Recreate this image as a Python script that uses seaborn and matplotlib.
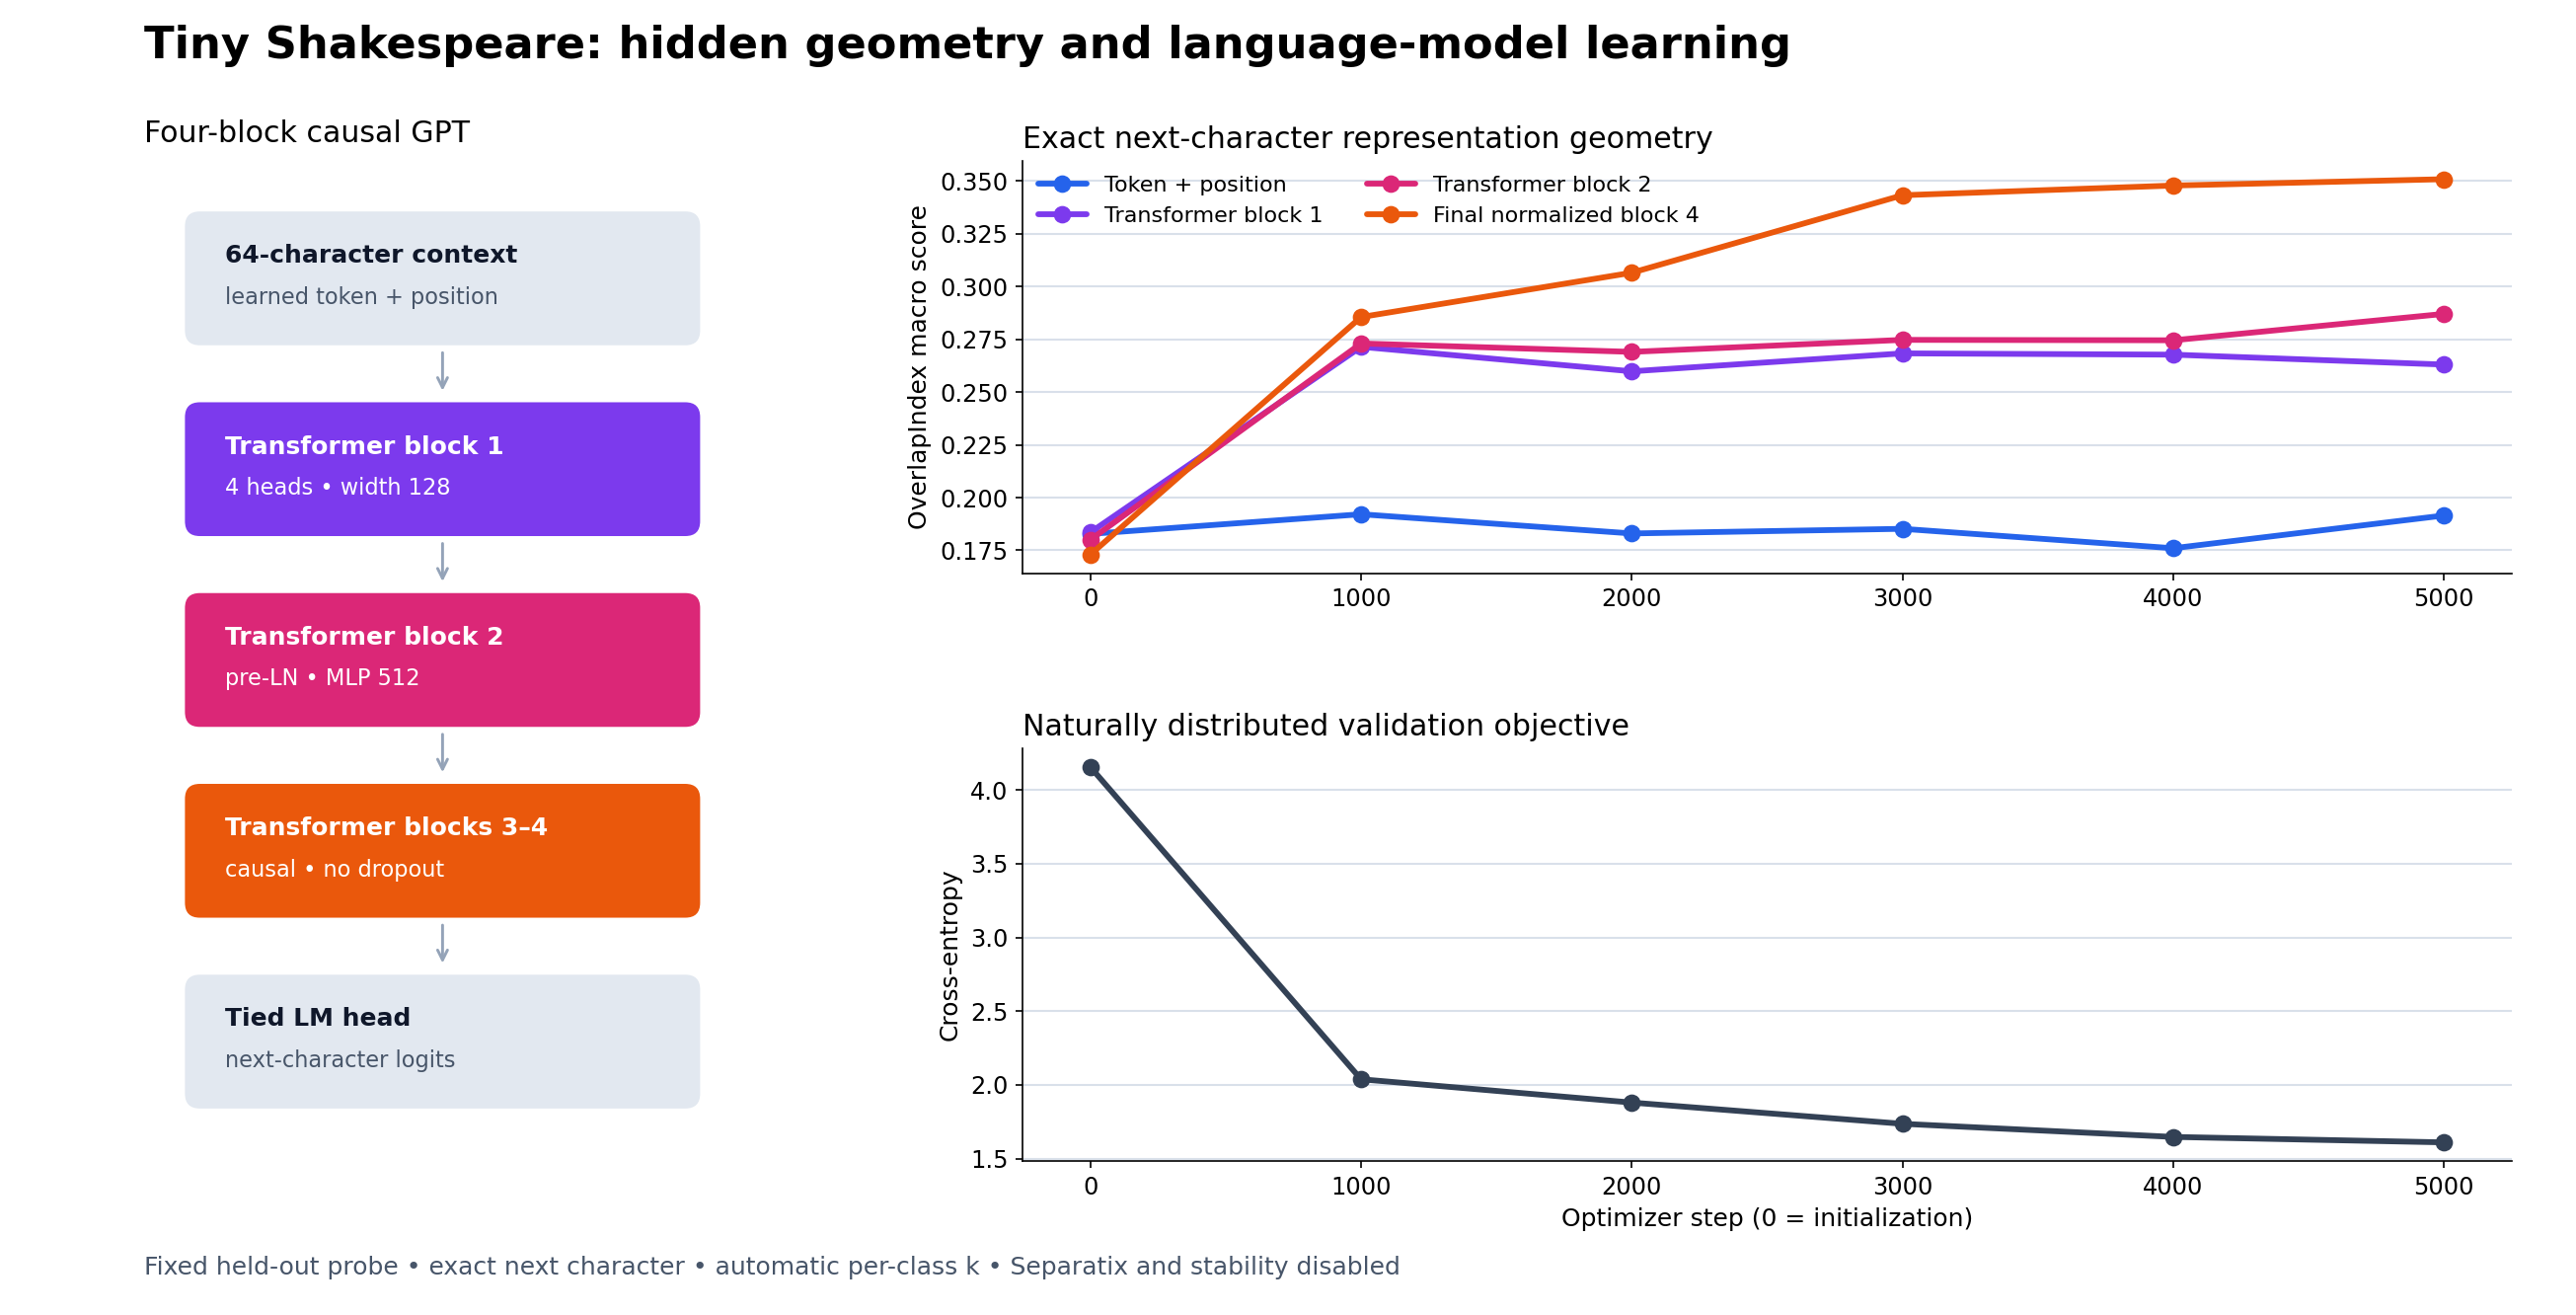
import numpy as np
import pandas as pd
import matplotlib
matplotlib.use("Agg")
import matplotlib.pyplot as plt
import seaborn as sns
from matplotlib.patches import FancyBboxPatch

# ── data ────────────────────────────────────────────────────────────────────
steps = [0, 1000, 2000, 3000, 4000, 5000]
token_pos = [0.1828, 0.1921, 0.1830, 0.1852, 0.1760, 0.1915]
block1 = [0.1835, 0.2714, 0.2598, 0.2683, 0.2677, 0.2630]
block2 = [0.1800, 0.2730, 0.2690, 0.2747, 0.2745, 0.2870]
final_block4 = [0.1730, 0.2855, 0.3065, 0.3432, 0.3478, 0.3508]
cross_entropy = [4.156, 2.038, 1.880, 1.736, 1.647, 1.610]

series_names = ["Token + position", "Transformer block 1",
                "Transformer block 2", "Final normalized block 4"]
series_colors = ["#2563eb", "#7c3aed", "#db2777", "#ea580c"]

box_titles = ["64-character context", "Transformer block 1",
              "Transformer block 2", "Transformer blocks 3–4", "Tied LM head"]
box_subs = ["learned token + position", "4 heads • width 128",
            "pre-LN • MLP 512", "causal • no dropout", "next-character logits"]
box_fill = ["#e2e8f0", "#7c3aed", "#db2777", "#ea580c", "#e2e8f0"]
box_title_col = ["#0f172a", "white", "white", "white", "#0f172a"]
box_sub_col = ["#475569", "white", "white", "white", "#475569"]

df = pd.DataFrame({
    "step": steps * 4,
    "score": token_pos + block1 + block2 + final_block4,
    "layer": np.repeat(series_names, len(steps)),
})
df_loss = pd.DataFrame({"step": steps, "loss": cross_entropy})

sns.set_style("ticks")
plt.rcParams["font.family"] = ["DejaVu Sans"]
plt.rcParams.update({"text.color": "black", "axes.labelcolor": "black",
                     "xtick.color": "black", "ytick.color": "black",
                     "axes.edgecolor": "black"})

fig = plt.figure(figsize=(17.4, 8.88), dpi=150)

# ── architecture diagram (coordinates in a 1560x796 canvas) ─────────────────
ax_d = fig.add_axes([0, 0, 1, 1], zorder=0)
ax_d.set_xlim(0, 1560)
ax_d.set_ylim(796, 0)
ax_d.axis("off")
bx, bw, bh, step_y = 112, 312, 81, 115.5
for i in range(len(box_titles)):
    top = 128 + i * step_y
    ax_d.add_patch(FancyBboxPatch((bx, top), bw, bh,
                                  boxstyle="round,pad=0,rounding_size=9",
                                  fc=box_fill[i], ec="none"))
    ax_d.text(bx + 24, top + 27, box_titles[i], fontsize=12, fontweight="bold",
              color=box_title_col[i], va="center", ha="left")
    ax_d.text(bx + 24, top + 52, box_subs[i], fontsize=10.8,
              color=box_sub_col[i], va="center", ha="left")
    if i < len(box_titles) - 1:
        ax_d.annotate("", xy=(bx + bw / 2, top + bh + 30), xytext=(bx + bw / 2, top + bh + 2),
                      arrowprops=dict(arrowstyle="->", color="#94a3b8", lw=1.4,
                                      mutation_scale=12))

fig.text(0.0558, 0.965, "Tiny Shakespeare: hidden geometry and language-model learning",
         fontsize=21.5, fontweight="bold", va="center", ha="left")
fig.text(0.0558, 0.898, "Four-block causal GPT", fontsize=14.4, va="center", ha="left")
fig.text(0.0558, 0.036,
         "Fixed held-out probe • exact next character • automatic per-class k • "
         "Separatix and stability disabled",
         fontsize=12, color="#475569", va="center", ha="left")

# ── representation geometry ─────────────────────────────────────────────────
ax1 = fig.add_axes([0.397, 0.564, 0.578, 0.314], zorder=1)
sns.lineplot(data=df, x="step", y="score", hue="layer", hue_order=series_names,
             palette=series_colors, marker="o", markersize=8.5, markeredgewidth=0,
             linewidth=2.8, ax=ax1)
ax1.set_title("Exact next-character representation geometry", loc="left", fontsize=14.4, pad=6)
ax1.set_xlabel("")
ax1.set_ylabel("OverlapIndex macro score", fontsize=12)
ax1.set_xticks(steps)
ax1.set_yticks(np.arange(0.175, 0.351, 0.025))
ax1.yaxis.set_major_formatter(matplotlib.ticker.FormatStrFormatter("%.3f"))
ax1.tick_params(labelsize=11.5)
ax1.grid(axis="y", color="#d9e0ea", linewidth=1)
ax1.set_axisbelow(True)
sns.move_legend(ax1, "upper left", ncol=2, frameon=False, title=None,
                fontsize=10.7, columnspacing=2.0, borderaxespad=0.3,
                handlelength=2.2, labelspacing=0.5)
sns.despine(ax=ax1)

# ── validation loss ─────────────────────────────────────────────────────────
ax2 = fig.add_axes([0.397, 0.117, 0.578, 0.314], zorder=1)
sns.lineplot(data=df_loss, x="step", y="loss", color="#334155", marker="o",
             markersize=8.5, markeredgewidth=0, linewidth=2.8, ax=ax2)
ax2.set_title("Naturally distributed validation objective", loc="left", fontsize=14.4, pad=6)
ax2.set_xlabel("Optimizer step (0 = initialization)", fontsize=12)
ax2.set_ylabel("Cross-entropy", fontsize=12)
ax2.set_xticks(steps)
ax2.set_yticks([1.5, 2.0, 2.5, 3.0, 3.5, 4.0])
ax2.tick_params(labelsize=11.5)
ax2.grid(axis="y", color="#d9e0ea", linewidth=1)
ax2.set_axisbelow(True)
sns.despine(ax=ax2)

fig.savefig("out.png", dpi=150)
